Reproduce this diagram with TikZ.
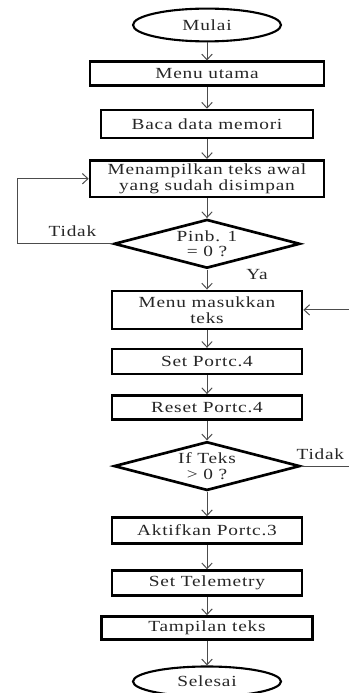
\documentclass[tikz,border=0pt]{standalone}
\usepackage{fontspec}
\setmainfont[LetterSpace=5, FakeStretch=1.25]{Liberation Serif}
\usetikzlibrary{arrows.meta, positioning, shapes.geometric}
\definecolor{linegray}{rgb}{0.3, 0.3, 0.3}
\definecolor{textgray}{rgb}{0.15, 0.15, 0.15}

\begin{document}
\begin{tikzpicture}[
        terminal/.style={ellipse, draw, line width=1.5pt, minimum width=3.7cm, minimum height=0.82cm, inner sep=0pt, text=textgray, font=\fontsize{11}{11}\selectfont},
        process/.style={rectangle, draw, line width=1.9pt, align=center, minimum width=4.75cm, inner sep=0pt, text=textgray, font=\fontsize{11}{11.2}\selectfont},
        decision/.style={diamond, draw, line width=1.9pt, align=center, shape aspect=3.7, inner sep=0pt, minimum width=4.65cm, minimum height=1.22cm, text=textgray, font=\fontsize{11}{11.2}\selectfont},
        arrow/.style={draw, -{Straight Barb[length=1.4mm, width=2.6mm]}, linegray, line width=0.7pt},
        plain/.style={draw, linegray, line width=0.7pt},
        answer/.style={font=\fontsize{11}{11}\selectfont, text=textgray, inner sep=2pt},
        ]

        \useasboundingbox (0,0) rectangle (8.725,-17.325);

        % Nodes
        \node (mulai) [terminal] at (5.175,-0.625) {Mulai};
        \node (menu) [process, below=0.45cm of mulai, minimum width=5.85cm, minimum height=0.6cm] {Menu utama};
        \node (baca) [process, below=0.54cm of menu, minimum width=5.3cm, minimum height=0.7cm] {Baca data memori};
        \node (tampil) [process, below=0.49cm of baca, minimum width=5.85cm, minimum height=0.92cm] {Menampilkan teks awal\\yang sudah disimpan};
        \node (pinb) [decision, below=0.49cm of tampil] {Pinb. 1\\= 0 ?};
        \node (masuk) [process, below=0.5cm of pinb, minimum height=0.95cm] {Menu masukkan\\teks};
        \node (setpc) [process, below=0.44cm of masuk, minimum height=0.62cm] {Set Portc.4};
        \node (resetpc) [process, below=0.47cm of setpc, minimum height=0.6cm] {Reset Portc.4};
        \node (ifteks) [decision, below=0.49cm of resetpc] {If Teks\\> 0 ?};
        \node (aktif) [process, below=0.61cm of ifteks, minimum height=0.65cm] {Aktifkan Portc.3};
        \node (telem) [process, below=0.61cm of aktif, minimum height=0.62cm] {Set Telemetry};
        \node (tampilan) [process, below=0.46cm of telem, minimum width=5.27cm, minimum height=0.57cm] {Tampilan teks};
        \node (selesai) [terminal, below=0.62cm of tampilan, minimum height=0.75cm] {Selesai};

        \coordinate (loopx) at (0.425,0);
        \coordinate (rightx) at (8.725,0);

        % Arrows with labels
        \draw [arrow] (mulai) -- (menu);
        \draw [arrow] (menu) -- (baca);
        \draw [arrow] (baca) -- (tampil);
        \draw [arrow] (tampil) -- (pinb);
        \draw [arrow] (pinb) -- node[answer, pos=0.25, right=9mm] {Ya} (masuk);
        \draw [arrow] (pinb.west) -- node[answer, pos=0.42, above, yshift=3pt] {Tidak} (pinb.west -| loopx) |- (tampil.west);
        \draw [arrow] (masuk.east -| rightx) -- (masuk.east);
        \draw [arrow] (masuk) -- (setpc);
        \draw [arrow] (setpc) -- (resetpc);
        \draw [arrow] (resetpc) -- (ifteks);
        \draw [plain] (ifteks.east) -- node[answer, pos=0.4, above, yshift=2pt] {Tidak} (ifteks.east -| rightx);
        \draw [arrow] (ifteks) -- (aktif);
        \draw [arrow] (aktif) -- (telem);
        \draw [arrow] (telem) -- (tampilan);
        \draw [arrow] (tampilan) -- (selesai);

    \end{tikzpicture}
\end{document}
